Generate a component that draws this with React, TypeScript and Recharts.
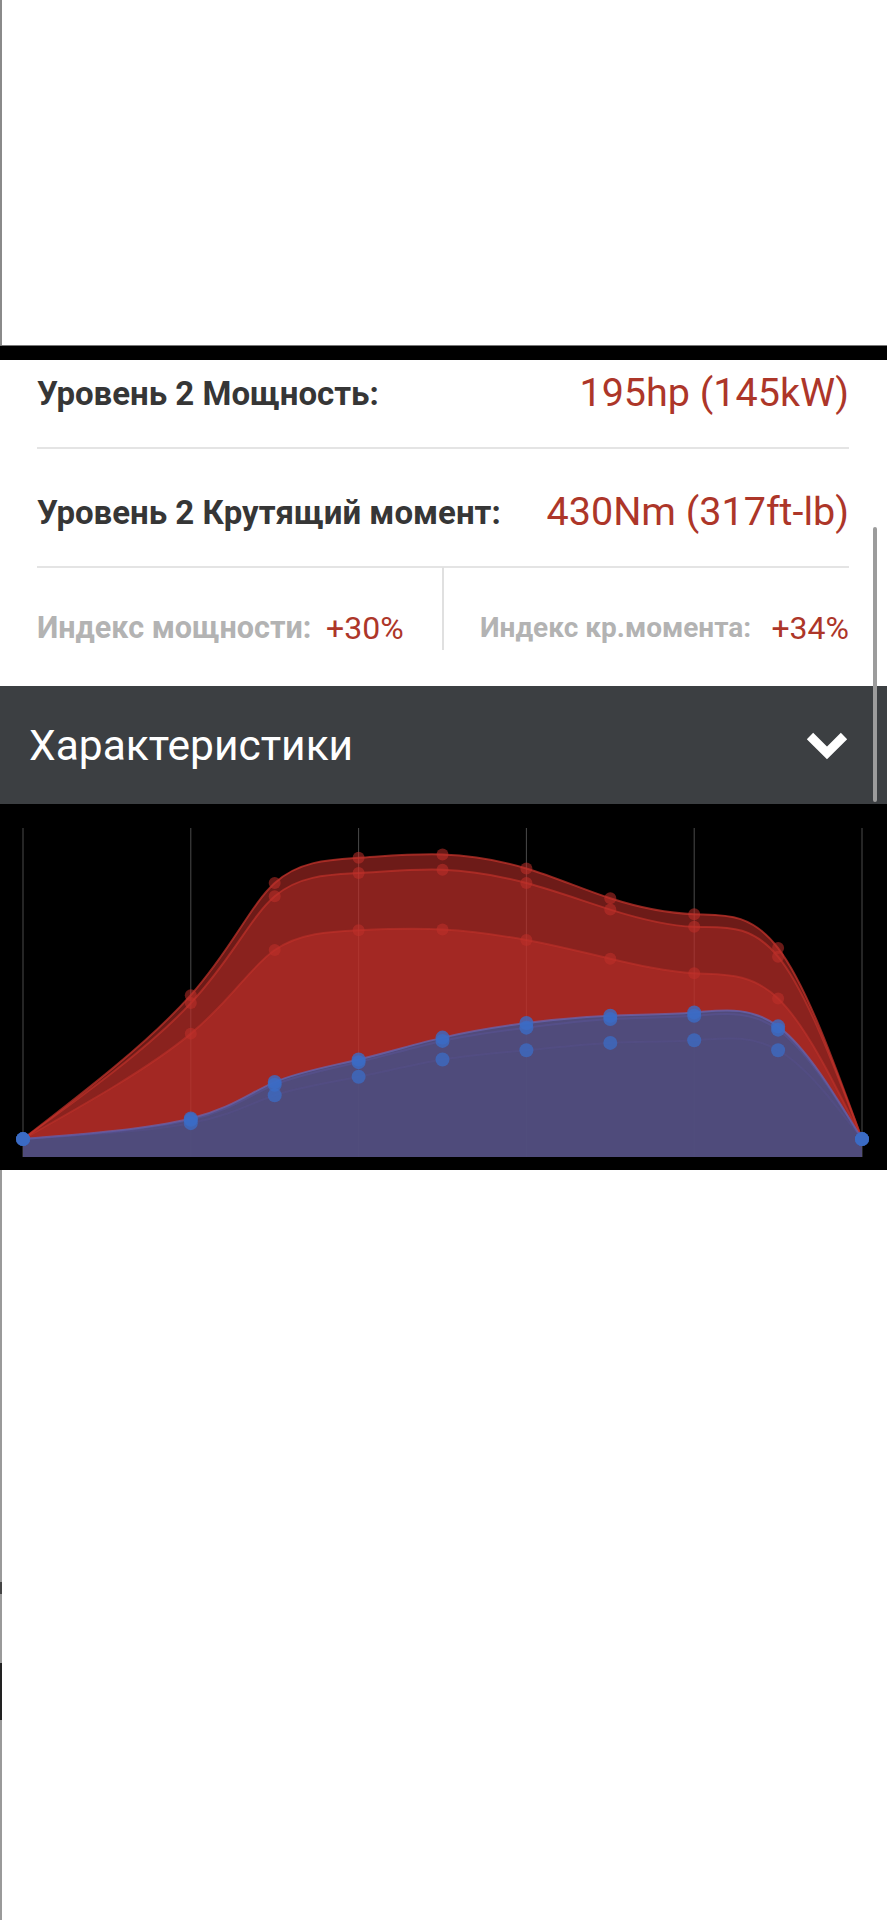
import React from "react";
import { AreaChart, Area, XAxis, YAxis, CartesianGrid } from "recharts";

// engine speed (rpm) – gridlines every 1000
const rpm = [1000, 2000, 2500, 3000, 3500, 4000, 4500, 5000, 5500, 6000];
const rpmTicks = [1000, 2000, 3000, 4000, 5000, 6000];

// torque, Nm
const torqueStage2 = [0, 217, 386, 424, 429, 408, 363, 339, 288, 0];
const torqueStage1 = [0, 205, 366, 401, 406, 386, 346, 320, 275, 0];
const torqueStock = [0, 159, 285, 315, 316, 300, 272, 250, 212, 0];

// power, hp
const powerStage2 = [0, 31, 86, 120, 153, 175, 186, 191, 170, 0];
const powerStage1 = [0, 29, 82, 116, 148, 168, 181, 186, 165, 0];
const powerStock = [0, 24, 66, 94, 120, 134, 145, 149, 134, 0];

const yDomain = [-27, 469];

const chartData = rpm.map((r, i) => ({
  rpm: r,
  tq2: torqueStage2[i],
  tq1: torqueStage1[i],
  tq0: torqueStock[i],
  hp2: powerStage2[i],
  hp1: powerStage1[i],
  hp0: powerStock[i],
}));

const RED = "#c0302a";
const BLUE_FILL = "#445189";
const BLUE_DOT = "#3b6cc6";

const series = [
  { key: "tq2", fill: RED, fillOpacity: 0.57, stroke: "#c8342c", strokeOpacity: 0.7, dot: RED, dotOpacity: 0.55, r: 6 },
  { key: "tq1", fill: RED, fillOpacity: 0.35, stroke: "#c8342c", strokeOpacity: 0.6, dot: RED, dotOpacity: 0.55, r: 6 },
  { key: "tq0", fill: RED, fillOpacity: 0.45, stroke: "#c8342c", strokeOpacity: 0.5, dot: RED, dotOpacity: 0.55, r: 6 },
  { key: "hp2", fill: BLUE_FILL, fillOpacity: 0.86, stroke: "#6a66b4", strokeOpacity: 0.7, dot: BLUE_DOT, dotOpacity: 0.8, r: 7 },
  { key: "hp1", fill: BLUE_FILL, fillOpacity: 0.06, stroke: "#5f5aa4", strokeOpacity: 0.35, dot: BLUE_DOT, dotOpacity: 0.8, r: 7 },
  { key: "hp0", fill: BLUE_FILL, fillOpacity: 0.06, stroke: "#5a5598", strokeOpacity: 0.25, dot: BLUE_DOT, dotOpacity: 0.75, r: 7 },
];

const font = "Roboto, 'Noto Sans', sans-serif";

function Text({ top, left, right, size, weight = 400, color, children }: any) {
  return (
    <div
      style={{
        position: "absolute",
        top,
        left,
        right,
        fontSize: size,
        fontWeight: weight,
        color,
        lineHeight: 1,
        transform: "translateY(-50%)",
        whiteSpace: "nowrap",
      }}
    >
      {children}
    </div>
  );
}

export default function App() {
  return (
    <div style={{ position: "relative", width: 887, height: 1920, background: "#fff", fontFamily: font, overflow: "hidden" }}>
      <style>{`body{margin:0}`}</style>

      {/* page edge lines */}
      <div style={{ position: "absolute", left: 0, top: 0, width: 1.5, height: 345, background: "#8a8a8a" }} />
      <div style={{ position: "absolute", left: 0, top: 1170, width: 1.5, height: 750, background: "#9a9a9a" }} />
      <div style={{ position: "absolute", left: 0, top: 1582, width: 2, height: 12, background: "#444" }} />
      <div style={{ position: "absolute", left: 0, top: 1663, width: 2, height: 57, background: "#222" }} />

      {/* black bar */}
      <div style={{ position: "absolute", left: 0, top: 345, width: 887, height: 15, background: "#000", borderTop: "1px solid #777", boxSizing: "border-box" }} />

      {/* info panel */}
      <Text top={393} left={37} size={33} weight={700} color="#363636">Уровень 2 Мощность:</Text>
      <Text top={393} right={38} size={39.5} weight={400} color="#ad3629">195hp (145kW)</Text>
      <div style={{ position: "absolute", left: 37, top: 447, width: 812, height: 2, background: "#e4e4e4" }} />
      <Text top={512} left={37} size={33} weight={700} color="#363636">Уровень 2 Крутящий момент:</Text>
      <Text top={512} right={38} size={39.5} weight={400} color="#ad3629">430Nm (317ft-lb)</Text>
      <div style={{ position: "absolute", left: 37, top: 566, width: 812, height: 2, background: "#e4e4e4" }} />
      <div style={{ position: "absolute", left: 442, top: 567, width: 1.5, height: 83, background: "#e0e0e0" }} />
      <Text top={628} left={37} size={30.5} weight={700} color="#b3b3b3">Индекс мощности:</Text>
      <Text top={628} left={326} size={32} weight={400} color="#ad3629">+30%</Text>
      <Text top={628} left={480} size={28} weight={700} color="#b3b3b3">Индекс кр.момента:</Text>
      <Text top={628} right={38} size={32} weight={400} color="#ad3629">+34%</Text>

      {/* header */}
      <div style={{ position: "absolute", left: 0, top: 686, width: 887, height: 118, background: "#3c3f42" }} />
      <Text top={746} left={29} size={42.5} weight={400} color="#ffffff">Характеристики</Text>
      <svg style={{ position: "absolute", left: 805, top: 730 }} width={44} height={32}>
        <polyline points="5,6 22,23 39,6" fill="none" stroke="#fff" strokeWidth={9} strokeLinejoin="miter" />
      </svg>

      {/* scrollbar */}
      <div style={{ position: "absolute", left: 873, top: 527, width: 4, height: 275, background: "#9c9c9c", borderRadius: 2 }} />

      {/* chart */}
      <div style={{ position: "absolute", left: 0, top: 804, width: 887, height: 366, background: "#000" }}>
        <AreaChart width={887} height={366} data={chartData} margin={{ top: 24, right: 25, bottom: 13, left: 23 }}>
          <CartesianGrid vertical horizontal={false} stroke="#4a4a4a" strokeWidth={1} />
          <XAxis type="number" dataKey="rpm" domain={[1000, 6000]} ticks={rpmTicks} hide />
          <YAxis type="number" domain={yDomain} allowDataOverflow hide />
          {series.map((s) => (
            <Area
              key={s.key}
              type="natural"
              dataKey={s.key}
              baseValue="dataMin"
              fill={s.fill}
              fillOpacity={s.fillOpacity}
              stroke={s.stroke}
              strokeOpacity={s.strokeOpacity}
              strokeWidth={2}
              dot={{ r: s.r, fill: s.dot, fillOpacity: s.dotOpacity, stroke: "none" }}
              activeDot={false}
              isAnimationActive={false}
            />
          ))}
        </AreaChart>
      </div>
    </div>
  );
}
